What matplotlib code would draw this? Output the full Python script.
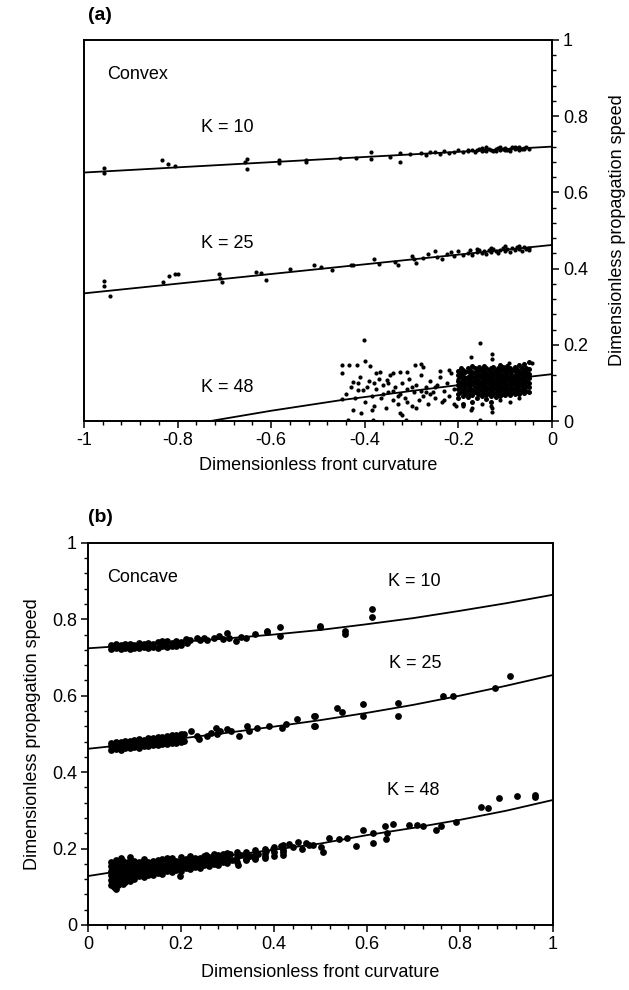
import numpy as np
import matplotlib.pyplot as plt
from matplotlib.ticker import MultipleLocator

plt.rcParams['font.family'] = ['Liberation Sans', 'DejaVu Sans']

# -------- PANEL (a): CONVEX --------
a_ticks = [-1.0, -0.8, -0.6, -0.4, -0.2, 0.0]
a_ticklabels = ["-1", "-0.8", "-0.6", "-0.4", "-0.2", "0"]
speed_ticks = [0.0, 0.2, 0.4, 0.6, 0.8, 1.0]
speed_ticklabels = ["0", "0.2", "0.4", "0.6", "0.8", "1"]

# fitted lines (curvature, speed)
a10_line_x = [-1.0, 0.0]
a10_line_y = [0.652, 0.720]
a25_line_x = [-1.0, 0.0]
a25_line_y = [0.335, 0.462]
a48_line_x = [-0.73, -0.60, -0.45, -0.30, -0.15, 0.0]
a48_line_y = [0.0, 0.027, 0.055, 0.079, 0.102, 0.123]

# K = 10 points
a10_x = [-0.957, -0.957, -0.833, -0.820, -0.805, -0.652, -0.652, -0.655, -0.583, -0.583,
         -0.526, -0.526, -0.453, -0.418, -0.386, -0.386, -0.346, -0.325, -0.325, -0.303,
         -0.280, -0.270, -0.260, -0.250, -0.240, -0.230, -0.220, -0.210, -0.200, -0.190,
         -0.180, -0.170, -0.165, -0.160, -0.155, -0.150, -0.145, -0.140, -0.135, -0.130,
         -0.125, -0.120, -0.115, -0.110, -0.105, -0.100, -0.095, -0.090, -0.085, -0.080,
         -0.075, -0.070, -0.065, -0.060, -0.055, -0.050, -0.180, -0.150, -0.120, -0.100,
         -0.080, -0.060, -0.070, -0.090, -0.140, -0.110]
a10_y = [0.664, 0.651, 0.685, 0.675, 0.670, 0.688, 0.661, 0.680, 0.685, 0.677,
         0.685, 0.680, 0.691, 0.691, 0.707, 0.688, 0.693, 0.704, 0.680, 0.700,
         0.703, 0.699, 0.705, 0.706, 0.700, 0.708, 0.703, 0.706, 0.710, 0.705,
         0.708, 0.712, 0.706, 0.710, 0.714, 0.708, 0.712, 0.709, 0.715, 0.711,
         0.708, 0.713, 0.716, 0.711, 0.714, 0.717, 0.712, 0.715, 0.718, 0.713,
         0.716, 0.719, 0.714, 0.717, 0.720, 0.715, 0.712, 0.716, 0.709, 0.711,
         0.720, 0.713, 0.711, 0.709, 0.718, 0.720]

# K = 25 points
a25_x = [-0.957, -0.957, -0.945, -0.831, -0.818, -0.806, -0.799, -0.712, -0.705, -0.710,
         -0.632, -0.622, -0.611, -0.560, -0.509, -0.494, -0.470, -0.430, -0.425, -0.380,
         -0.370, -0.335, -0.330, -0.300, -0.295, -0.290, -0.275, -0.265, -0.250, -0.245,
         -0.235, -0.225, -0.215, -0.210, -0.200, -0.190, -0.180, -0.175, -0.170, -0.160,
         -0.155, -0.150, -0.145, -0.140, -0.135, -0.130, -0.125, -0.120, -0.115, -0.110,
         -0.105, -0.100, -0.095, -0.090, -0.085, -0.080, -0.075, -0.070, -0.065, -0.060,
         -0.055, -0.050, -0.050, -0.160, -0.130, -0.100, -0.070]
a25_y = [0.368, 0.354, 0.329, 0.366, 0.381, 0.386, 0.386, 0.386, 0.366, 0.375,
         0.392, 0.389, 0.370, 0.398, 0.409, 0.405, 0.395, 0.410, 0.410, 0.425,
         0.412, 0.418, 0.410, 0.432, 0.424, 0.415, 0.428, 0.437, 0.445, 0.430,
         0.426, 0.438, 0.443, 0.432, 0.445, 0.436, 0.441, 0.448, 0.436, 0.444,
         0.450, 0.441, 0.446, 0.438, 0.449, 0.443, 0.452, 0.446, 0.441, 0.450,
         0.455, 0.447, 0.452, 0.444, 0.455, 0.449, 0.456, 0.451, 0.447, 0.457,
         0.452, 0.455, 0.448, 0.452, 0.455, 0.458, 0.459]

# K = 48 scattered points
a48_x = [-0.402, -0.154, -0.449, -0.433, -0.416, -0.400, -0.449, -0.389, -0.174, -0.128,
         -0.128, -0.293, -0.279, -0.275, -0.092, -0.043, -0.425, -0.415, -0.404, -0.415,
         -0.375, -0.368, -0.353, -0.339, -0.325, -0.310, -0.449, -0.425, -0.407, -0.385,
         -0.435, -0.382, -0.312, -0.154, -0.321, -0.325, -0.174, -0.128, -0.128,
         -0.440, -0.430, -0.420, -0.410, -0.400, -0.395, -0.390, -0.385, -0.380, -0.375,
         -0.370, -0.365, -0.360, -0.355, -0.350, -0.345, -0.340, -0.335, -0.330, -0.325,
         -0.320, -0.315, -0.310, -0.305, -0.300, -0.295, -0.290, -0.285, -0.280, -0.275,
         -0.270, -0.265, -0.260, -0.255, -0.250, -0.245, -0.240, -0.235, -0.230, -0.225,
         -0.220, -0.215, -0.210, -0.205, -0.200, -0.350, -0.310, -0.290, -0.270, -0.250,
         -0.230, -0.340, -0.360, -0.380, -0.330, -0.300, -0.280, -0.260, -0.240, -0.220,
         -0.210, -0.190, -0.170, -0.150, -0.130, -0.110, -0.090, -0.070, -0.060]
a48_y = [0.213, 0.206, 0.147, 0.147, 0.147, 0.158, 0.125, 0.144, 0.167, 0.176,
         0.164, 0.147, 0.149, 0.143, 0.151, 0.152, 0.103, 0.099, 0.081, 0.081,
         0.125, 0.129, 0.108, 0.127, 0.129, 0.129, 0.058, 0.029, 0.020, 0.029,
         0.002, 0.002, 0.002, 0.002, 0.016, 0.020, 0.029, 0.024, 0.033,
         0.070, 0.090, 0.060, 0.115, 0.050, 0.090, 0.105, 0.065, 0.040, 0.085,
         0.110, 0.060, 0.095, 0.035, 0.075, 0.120, 0.055, 0.090, 0.045, 0.070,
         0.100, 0.060, 0.085, 0.110, 0.040, 0.075, 0.095, 0.055, 0.120, 0.065,
         0.090, 0.045, 0.105, 0.075, 0.060, 0.095, 0.115, 0.050, 0.080, 0.100,
         0.065, 0.125, 0.085, 0.040, 0.110, 0.100, 0.050, 0.035, 0.075, 0.090,
         0.055, 0.080, 0.070, 0.100, 0.065, 0.090, 0.080, 0.070, 0.130, 0.135,
         0.045, 0.040, 0.035, 0.045, 0.040, 0.055, 0.050, 0.060, 0.150]

# K = 48 dense cloud near the flat end, one list of speeds per curvature column
a48_cols = [-0.200, -0.195, -0.190, -0.185, -0.180, -0.175, -0.170, -0.165, -0.160, -0.155,
            -0.150, -0.145, -0.140, -0.135, -0.130, -0.125, -0.120, -0.115, -0.110, -0.105,
            -0.100, -0.095, -0.090, -0.085, -0.080, -0.075, -0.070, -0.065, -0.060, -0.055,
            -0.050]
a48_vals = [[0.070, 0.085, 0.095, 0.105, 0.120, 0.130, 0.060],
            [0.075, 0.090, 0.100, 0.115, 0.125, 0.140],
            [0.065, 0.080, 0.092, 0.108, 0.118, 0.135, 0.045],
            [0.070, 0.088, 0.100, 0.112, 0.128],
            [0.062, 0.078, 0.094, 0.104, 0.116, 0.130, 0.140],
            [0.072, 0.086, 0.098, 0.110, 0.122, 0.135],
            [0.050, 0.068, 0.082, 0.096, 0.106, 0.118, 0.128, 0.145],
            [0.075, 0.090, 0.102, 0.114, 0.126, 0.138],
            [0.060, 0.074, 0.087, 0.099, 0.109, 0.121, 0.133],
            [0.070, 0.084, 0.094, 0.105, 0.117, 0.130, 0.142],
            [0.065, 0.078, 0.090, 0.101, 0.112, 0.124, 0.136],
            [0.072, 0.086, 0.097, 0.108, 0.120, 0.131, 0.145],
            [0.058, 0.068, 0.081, 0.093, 0.104, 0.115, 0.127, 0.138],
            [0.074, 0.088, 0.100, 0.110, 0.122, 0.134],
            [0.066, 0.079, 0.091, 0.103, 0.113, 0.125, 0.140, 0.050],
            [0.071, 0.085, 0.096, 0.107, 0.118, 0.129, 0.142],
            [0.062, 0.076, 0.089, 0.100, 0.111, 0.123, 0.135],
            [0.070, 0.083, 0.094, 0.105, 0.116, 0.128, 0.140],
            [0.066, 0.078, 0.090, 0.102, 0.113, 0.124, 0.137, 0.148],
            [0.072, 0.086, 0.097, 0.108, 0.119, 0.131, 0.143],
            [0.068, 0.080, 0.092, 0.103, 0.114, 0.126, 0.138],
            [0.074, 0.087, 0.098, 0.110, 0.121, 0.133, 0.145],
            [0.069, 0.082, 0.094, 0.105, 0.116, 0.128, 0.140],
            [0.075, 0.088, 0.100, 0.111, 0.122, 0.134],
            [0.070, 0.083, 0.095, 0.106, 0.118, 0.130, 0.142],
            [0.077, 0.090, 0.101, 0.113, 0.124, 0.136],
            [0.072, 0.085, 0.097, 0.108, 0.120, 0.132, 0.146],
            [0.078, 0.091, 0.103, 0.114, 0.126, 0.138],
            [0.074, 0.087, 0.099, 0.110, 0.122, 0.134, 0.150],
            [0.080, 0.093, 0.105, 0.117, 0.129, 0.140],
            [0.076, 0.089, 0.100, 0.112, 0.124, 0.136, 0.155]]

# -------- PANEL (b): CONCAVE --------
b_ticks = [0.0, 0.2, 0.4, 0.6, 0.8, 1.0]
b_ticklabels = ["0", "0.2", "0.4", "0.6", "0.8", "1"]

b_line_x = [0.0, 0.1, 0.2, 0.3, 0.4, 0.5, 0.6, 0.7, 0.8, 0.9, 1.0]
b10_line_y = [0.724, 0.732, 0.741, 0.750, 0.760, 0.772, 0.787, 0.803, 0.822, 0.842, 0.864]
b25_line_y = [0.461, 0.474, 0.488, 0.503, 0.519, 0.536, 0.555, 0.576, 0.600, 0.626, 0.654]
b48_line_y = [0.128, 0.147, 0.165, 0.181, 0.197, 0.213, 0.235, 0.254, 0.275, 0.299, 0.327]

# K = 10
b10_x = [0.160, 0.167, 0.199, 0.210, 0.214, 0.235, 0.249, 0.257, 0.282, 0.300,
         0.303, 0.318, 0.360, 0.385, 0.385, 0.414, 0.414, 0.500, 0.499, 0.553,
         0.553, 0.610, 0.610, 0.220, 0.240, 0.270, 0.290, 0.330, 0.340]
b10_y = [0.744, 0.730, 0.739, 0.748, 0.739, 0.752, 0.752, 0.746, 0.757, 0.764,
         0.752, 0.744, 0.761, 0.770, 0.766, 0.779, 0.757, 0.780, 0.783, 0.770,
         0.761, 0.827, 0.805, 0.745, 0.745, 0.750, 0.749, 0.754, 0.750]
b10_cols = [0.05, 0.06, 0.07, 0.08, 0.09, 0.10, 0.11, 0.12, 0.13, 0.14, 0.15, 0.16, 0.17, 0.18, 0.19, 0.20]
b10_vals = [[0.722, 0.732], [0.724, 0.735], [0.721, 0.733], [0.725, 0.734], [0.723, 0.736],
            [0.726, 0.733], [0.724, 0.737], [0.727, 0.735], [0.725, 0.738], [0.728, 0.736],
            [0.726, 0.740], [0.730, 0.738], [0.727, 0.742], [0.731, 0.739], [0.729, 0.744],
            [0.733, 0.741]]

# K = 25
b25_x = [0.206, 0.206, 0.221, 0.235, 0.239, 0.257, 0.264, 0.275, 0.278, 0.285,
         0.300, 0.307, 0.325, 0.343, 0.346, 0.364, 0.389, 0.418, 0.425, 0.450,
         0.486, 0.486, 0.488, 0.488, 0.535, 0.546, 0.592, 0.592, 0.666, 0.666,
         0.764, 0.786, 0.875, 0.908]
b25_y = [0.499, 0.481, 0.507, 0.494, 0.486, 0.494, 0.503, 0.516, 0.499, 0.507,
         0.512, 0.507, 0.494, 0.520, 0.507, 0.516, 0.520, 0.516, 0.525, 0.538,
         0.547, 0.520, 0.547, 0.520, 0.569, 0.556, 0.577, 0.547, 0.582, 0.547,
         0.600, 0.600, 0.621, 0.652]
b25_cols = [0.05, 0.06, 0.07, 0.08, 0.09, 0.10, 0.11, 0.12, 0.13, 0.14, 0.15, 0.16, 0.17, 0.18, 0.19, 0.20]
b25_vals = [[0.458, 0.468, 0.476], [0.461, 0.470, 0.479], [0.459, 0.472, 0.480],
            [0.463, 0.471, 0.482], [0.462, 0.474, 0.481], [0.466, 0.475, 0.484],
            [0.464, 0.477, 0.486], [0.468, 0.478, 0.485], [0.467, 0.480, 0.489],
            [0.471, 0.481, 0.490], [0.470, 0.483, 0.492], [0.474, 0.485, 0.491],
            [0.473, 0.486, 0.495], [0.477, 0.488, 0.496], [0.476, 0.489, 0.498],
            [0.480, 0.491, 0.500]]

# K = 48
b48_x = [0.961, 0.961, 0.923, 0.884, 0.845, 0.861, 0.792, 0.760, 0.749, 0.708,
         0.721, 0.691, 0.657, 0.640, 0.644, 0.641, 0.614, 0.614, 0.592, 0.577,
         0.558, 0.541, 0.519, 0.506, 0.502, 0.485, 0.468, 0.451, 0.433, 0.416,
         0.399, 0.382, 0.365, 0.348, 0.330, 0.322, 0.305, 0.288, 0.270, 0.253,
         0.197, 0.440, 0.460, 0.475, 0.420, 0.380, 0.360, 0.340, 0.310]
b48_y = [0.339, 0.334, 0.337, 0.332, 0.308, 0.306, 0.269, 0.258, 0.249, 0.262,
         0.258, 0.262, 0.264, 0.258, 0.241, 0.225, 0.241, 0.214, 0.249, 0.207,
         0.227, 0.225, 0.227, 0.190, 0.203, 0.209, 0.214, 0.216, 0.212, 0.207,
         0.199, 0.194, 0.186, 0.181, 0.183, 0.157, 0.186, 0.177, 0.186, 0.183,
         0.129, 0.205, 0.200, 0.210, 0.190, 0.180, 0.175, 0.172, 0.170]
b48_cols = [0.050, 0.055, 0.060, 0.065, 0.070, 0.075, 0.080, 0.085, 0.090, 0.095,
            0.100, 0.110, 0.120, 0.130, 0.140, 0.150, 0.160, 0.170, 0.180, 0.190,
            0.200, 0.210, 0.220, 0.230, 0.240, 0.250, 0.260, 0.270, 0.280, 0.290,
            0.300, 0.320, 0.340, 0.360, 0.380, 0.400, 0.420]
b48_vals = [[0.105, 0.118, 0.130, 0.142, 0.155, 0.165],
            [0.100, 0.112, 0.125, 0.137, 0.150, 0.162],
            [0.095, 0.108, 0.120, 0.133, 0.146, 0.158, 0.170],
            [0.104, 0.116, 0.128, 0.140, 0.152, 0.165],
            [0.110, 0.122, 0.135, 0.147, 0.160, 0.175],
            [0.108, 0.120, 0.132, 0.144, 0.156, 0.168],
            [0.112, 0.125, 0.138, 0.150, 0.162],
            [0.118, 0.130, 0.142, 0.154, 0.166],
            [0.115, 0.128, 0.140, 0.152, 0.165, 0.178],
            [0.122, 0.134, 0.146, 0.158],
            [0.120, 0.132, 0.144, 0.156, 0.168],
            [0.128, 0.140, 0.152, 0.164],
            [0.126, 0.138, 0.150, 0.162, 0.172],
            [0.132, 0.144, 0.156, 0.166],
            [0.130, 0.142, 0.154, 0.168],
            [0.136, 0.148, 0.160, 0.170],
            [0.134, 0.146, 0.158, 0.172],
            [0.140, 0.152, 0.164, 0.174],
            [0.138, 0.150, 0.162, 0.176],
            [0.144, 0.156, 0.168],
            [0.142, 0.154, 0.166, 0.178],
            [0.148, 0.160, 0.172],
            [0.146, 0.158, 0.170, 0.180],
            [0.152, 0.164, 0.176],
            [0.150, 0.162, 0.174],
            [0.156, 0.168, 0.180],
            [0.155, 0.166, 0.178],
            [0.160, 0.172, 0.184],
            [0.158, 0.170, 0.182],
            [0.164, 0.176, 0.186],
            [0.162, 0.174, 0.188],
            [0.166, 0.178, 0.190],
            [0.170, 0.182, 0.192],
            [0.172, 0.184, 0.196],
            [0.176, 0.188, 0.200],
            [0.180, 0.192, 0.204],
            [0.184, 0.196, 0.208]]


def flatten(cols, vals):
    xs = [c for c, v in zip(cols, vals) for _ in v]
    ys = [y for v in vals for y in v]
    return xs, ys


def style_axes(ax):
    for s in ax.spines.values():
        s.set_linewidth(1.4)
    ax.tick_params(which='major', length=5, width=1.1, direction='out', labelsize=13, pad=3)
    ax.tick_params(which='minor', length=3, width=1.0, direction='out')
    ax.xaxis.set_minor_locator(MultipleLocator(0.04))
    ax.yaxis.set_minor_locator(MultipleLocator(0.04))


fig = plt.figure(figsize=(6.29, 9.9), dpi=100)

# -------- (a) --------
ax1 = fig.add_axes([0.1335, 0.5747, 0.744, 0.385])
style_axes(ax1)
ax1.set_xlim(-1, 0)
ax1.set_ylim(0, 1)
ax1.set_xticks(a_ticks)
ax1.set_xticklabels(a_ticklabels)
ax1.set_yticks(speed_ticks)
ax1.set_yticklabels(speed_ticklabels)
ax1.tick_params(axis='y', which='both', left=False, right=True, labelleft=False, labelright=True)
ax1.yaxis.set_label_position('right')

ax1.plot(a10_line_x, a10_line_y, 'k-', lw=1.3)
ax1.plot(a25_line_x, a25_line_y, 'k-', lw=1.3)
ax1.plot(a48_line_x, a48_line_y, 'k-', lw=1.3)
for xs, ys in [(a10_x, a10_y), (a25_x, a25_y), (a48_x, a48_y)]:
    ax1.scatter(xs, ys, s=9, c='k', linewidths=0)
bx, by = flatten(a48_cols, a48_vals)
ax1.scatter(bx, by, s=13, c='k', linewidths=0)

ax1.text(-0.95, 0.908, "Convex", fontsize=13, va='center')
ax1.text(-0.693, 0.769, "K = 10", fontsize=13, ha='center', va='center')
ax1.text(-0.693, 0.467, "K = 25", fontsize=13, ha='center', va='center')
ax1.text(-0.693, 0.088, "K = 48", fontsize=13, ha='center', va='center')
ax1.set_xlabel("Dimensionless front curvature", fontsize=13, labelpad=6)
ax1.set_ylabel("Dimensionless propagation speed", fontsize=13, labelpad=15)
fig.text(88 / 629, 1 - 15 / 990, "(a)", fontsize=14, fontweight='bold', va='center')

# -------- (b) --------
ax2 = fig.add_axes([0.1399, 0.0657, 0.739, 0.386])
style_axes(ax2)
ax2.set_xlim(0, 1)
ax2.set_ylim(0, 1)
ax2.set_xticks(b_ticks)
ax2.set_xticklabels(b_ticklabels)
ax2.set_yticks(speed_ticks)
ax2.set_yticklabels(speed_ticklabels)

for ly in [b10_line_y, b25_line_y, b48_line_y]:
    ax2.plot(b_line_x, ly, 'k-', lw=1.3)
for cols, vals in [(b10_cols, b10_vals), (b25_cols, b25_vals), (b48_cols, b48_vals)]:
    xs, ys = flatten(cols, vals)
    ax2.scatter(xs, ys, s=24, c='k', linewidths=0)
for xs, ys in [(b10_x, b10_y), (b25_x, b25_y), (b48_x, b48_y)]:
    ax2.scatter(xs, ys, s=24, c='k', linewidths=0)

ax2.text(0.041, 0.908, "Concave", fontsize=13, va='center')
ax2.text(0.703, 0.898, "K = 10", fontsize=13, ha='center', va='center')
ax2.text(0.703, 0.685, "K = 25", fontsize=13, ha='center', va='center')
ax2.text(0.700, 0.351, "K = 48", fontsize=13, ha='center', va='center')
ax2.set_xlabel("Dimensionless front curvature", fontsize=13, labelpad=8)
ax2.set_ylabel("Dimensionless propagation speed", fontsize=13, labelpad=8)
fig.text(88 / 629, 1 - 517 / 990, "(b)", fontsize=14, fontweight='bold', va='center')

fig.savefig("out.png", dpi=100)
